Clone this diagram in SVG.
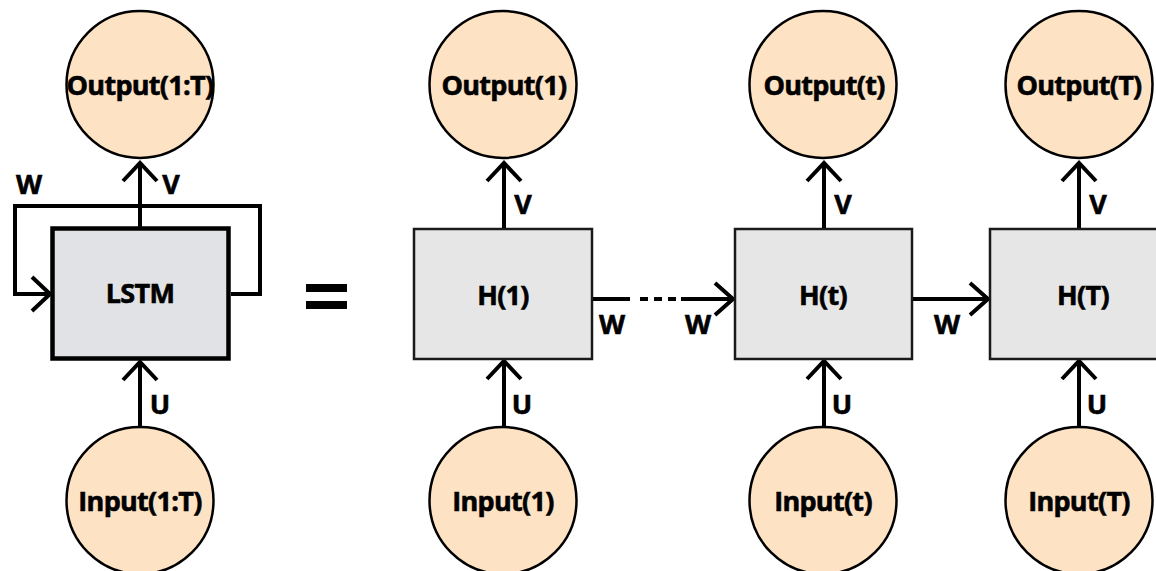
<svg xmlns="http://www.w3.org/2000/svg" width="1156" height="571" viewBox="0 0 1156 571">
<style>
.circ{fill:#fde2c4;stroke:#000;stroke-width:2.5}
.hbox{fill:#e6e6e6;stroke:#1a1a1a;stroke-width:2.5}
.lbox{fill:#e1e2e5;stroke:#000;stroke-width:4.5}
.t{font-family:"Open Sans","DejaVu Sans",sans-serif;font-weight:bold;font-size:27px;letter-spacing:-0.7px;fill:#000;stroke:#000;stroke-width:0.6;text-anchor:middle}
.lbl{font-family:"Open Sans","DejaVu Sans",sans-serif;font-weight:bold;font-size:27px;fill:#000;stroke:#000;stroke-width:0.6;text-anchor:middle}
.ln{stroke:#000;stroke-width:4;fill:none}
.hd{stroke:#000;stroke-width:4;fill:none;stroke-linecap:butt;stroke-linejoin:miter}
</style>
<rect width="1156" height="571" fill="#fff"/>
<g id="connectors">
  <line class="ln" x1="140" y1="227" x2="140" y2="162"/>
  <polyline class="hd" points="123,181 140,163 157,181"/>
  <line class="ln" x1="140" y1="427" x2="140" y2="361"/>
  <polyline class="hd" points="123,380 140,362 157,380"/>
  <polyline class="ln" points="231,294 260,294 260,206 15,206 15,294 50,294"/>
  <polyline class="hd" points="32,277 50,294 32,311"/>
  <line class="ln" x1="504" y1="228" x2="504" y2="162"/>
  <polyline class="hd" points="487,181 504,163 521,181"/>
  <line class="ln" x1="504" y1="427" x2="504" y2="360"/>
  <polyline class="hd" points="487,379 504,361 521,379"/>
  <line class="ln" x1="824" y1="228" x2="824" y2="162"/>
  <polyline class="hd" points="807,181 824,163 841,181"/>
  <line class="ln" x1="824" y1="427" x2="824" y2="360"/>
  <polyline class="hd" points="807,379 824,361 841,379"/>
  <line class="ln" x1="1079" y1="228" x2="1079" y2="162"/>
  <polyline class="hd" points="1062,181 1079,163 1096,181"/>
  <line class="ln" x1="1079" y1="427" x2="1079" y2="360"/>
  <polyline class="hd" points="1062,379 1079,361 1096,379"/>
  <line class="ln" x1="592" y1="299" x2="630" y2="299"/>
  <line class="ln" x1="640" y1="299" x2="676" y2="299" stroke-dasharray="8,6"/>
  <line class="ln" x1="681" y1="299" x2="733" y2="299"/>
  <polyline class="hd" points="715,283 733,299 715,315"/>
  <line class="ln" x1="912" y1="299" x2="988" y2="299"/>
  <polyline class="hd" points="970,283 988,299 970,315"/>
  <text class="lbl" x="29" y="194">W</text>
  <text class="lbl" x="171" y="194">V</text>
  <text class="lbl" x="160" y="414">U</text>
  <text class="lbl" x="523" y="214">V</text>
  <text class="lbl" x="522" y="414">U</text>
  <text class="lbl" x="843" y="214">V</text>
  <text class="lbl" x="842" y="414">U</text>
  <text class="lbl" x="1098" y="214">V</text>
  <text class="lbl" x="1097" y="414">U</text>
  <text class="lbl" x="612" y="334">W</text>
  <text class="lbl" x="698" y="334">W</text>
  <text class="lbl" x="947" y="334">W</text>
</g>
<g id="equals">
  <rect x="306" y="284" width="41" height="8" fill="#000"/>
  <rect x="306" y="301" width="41" height="8" fill="#000"/>
</g>
<g id="lstm">
  <rect class="lbox" x="52.5" y="228.5" width="176" height="130"/>
  <text class="t" x="140" y="303">LSTM</text>
</g>
<g id="out1T">
  <circle class="circ" cx="140" cy="84.5" r="73.5"/>
  <text class="t" x="140" y="95">Output(1:T)</text>
</g>
<g id="in1T">
  <circle class="circ" cx="140" cy="500.5" r="73.5"/>
  <text class="t" x="140" y="511">Input(1:T)</text>
</g>
<g id="h1">
  <rect class="hbox" x="414" y="229" width="178" height="130"/>
  <text class="t" x="503" y="305">H(1)</text>
</g>
<g id="ht">
  <rect class="hbox" x="735" y="229" width="177" height="130"/>
  <text class="t" x="823" y="305">H(t)</text>
</g>
<g id="hT">
  <rect class="hbox" x="990" y="229" width="180" height="130"/>
  <text class="t" x="1083" y="305">H(T)</text>
</g>
<g id="out1">
  <circle class="circ" cx="503" cy="84.5" r="73.5"/>
  <text class="t" x="504" y="95">Output(1)</text>
</g>
<g id="outt">
  <circle class="circ" cx="823" cy="84.5" r="73.5"/>
  <text class="t" x="824" y="95">Output(t)</text>
</g>
<g id="outT">
  <circle class="circ" cx="1079" cy="84.5" r="73.5"/>
  <text class="t" x="1079" y="95">Output(T)</text>
</g>
<g id="in1">
  <circle class="circ" cx="503" cy="500.5" r="73.5"/>
  <text class="t" x="503" y="511">Input(1)</text>
</g>
<g id="int">
  <circle class="circ" cx="823" cy="500.5" r="73.5"/>
  <text class="t" x="823" y="511">Input(t)</text>
</g>
<g id="inT">
  <circle class="circ" cx="1079" cy="500.5" r="73.5"/>
  <text class="t" x="1079" y="511">Input(T)</text>
</g>
</svg>
